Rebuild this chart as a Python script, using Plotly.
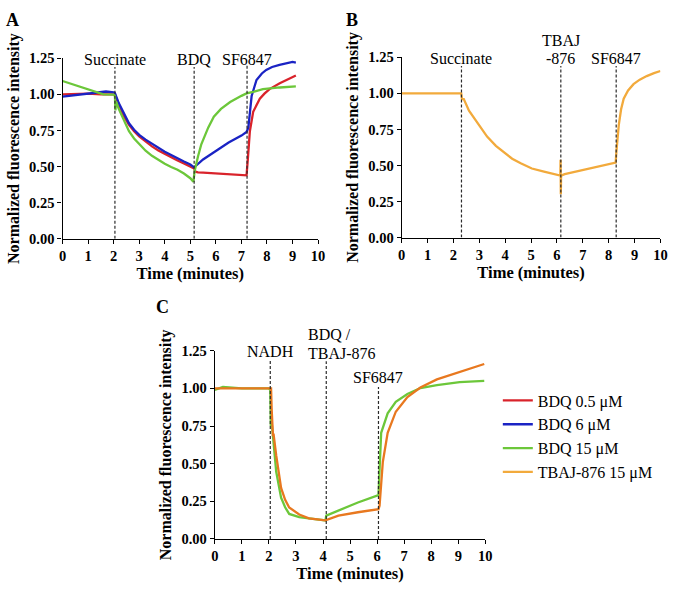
import plotly.graph_objects as go

# ---------------- data ----------------
# Panel A (BDQ, succinate)
a_red_t = [0, 0.5, 1.0, 1.5, 2.0, 2.05, 2.2, 2.4, 2.6, 2.8, 3.0, 3.25, 3.5, 3.75, 4.0, 4.25, 4.5, 4.75, 5.0, 5.15,
           5.2, 5.3, 5.5, 6.0, 6.5, 7.0, 7.2, 7.25, 7.33, 7.46, 7.6, 7.72, 7.9, 8.1, 8.5, 8.8, 9.13]
a_red_v = [1.0, 1.005, 1.005, 1.0, 1.0, 1.0, 0.93, 0.85, 0.79, 0.745, 0.71, 0.672, 0.64, 0.612, 0.588, 0.565, 0.543, 0.522, 0.502, 0.487,
           0.465, 0.46, 0.458, 0.452, 0.447, 0.442, 0.44, 0.55, 0.745, 0.88, 0.93, 0.97, 1.005, 1.037, 1.077, 1.105, 1.131]

a_blue_t = [0, 0.5, 1.0, 1.5, 1.7, 2.0, 2.05, 2.2, 2.4, 2.6, 2.8, 3.0, 3.25, 3.5, 3.75, 4.0, 4.25, 4.5, 4.75, 5.0, 5.15,
            5.5, 6.0, 6.5, 7.0, 7.2, 7.27, 7.4, 7.59, 7.8, 7.97, 8.2, 8.49, 9.0, 9.13]
a_blue_v = [0.985, 0.995, 1.005, 1.015, 1.02, 1.015, 1.01, 0.94, 0.865, 0.80, 0.755, 0.72, 0.687, 0.657, 0.628, 0.603, 0.58, 0.556, 0.535, 0.515, 0.495,
            0.55, 0.61, 0.667, 0.715, 0.74, 0.77, 0.99, 1.10, 1.145, 1.17, 1.19, 1.205, 1.225, 1.22]

a_green_t = [0, 0.4, 0.79, 1.3, 1.6, 2.0, 2.05, 2.07, 2.1, 2.2, 2.4, 2.6, 2.8, 3.0, 3.25, 3.5, 3.75, 4.0, 4.25, 4.5, 4.75, 5.0, 5.12,
             5.17, 5.3, 5.43, 5.7, 5.92, 6.2, 6.56, 7.0, 7.2, 7.5, 7.84, 8.5, 9.13]
a_green_v = [1.093, 1.07, 1.048, 1.014, 1.0, 0.998, 0.99, 0.89, 0.95, 0.9, 0.82, 0.745, 0.695, 0.655, 0.61, 0.575, 0.545, 0.52, 0.498, 0.478, 0.452, 0.42, 0.395,
             0.47, 0.57, 0.655, 0.77, 0.846, 0.9, 0.947, 0.99, 1.007, 1.02, 1.037, 1.048, 1.055]

# Panel B (TBAJ-876, succinate)
b_orange_t = [0, 0.5, 1.0, 1.5, 2.0, 2.3, 2.33, 2.4, 2.6, 3.0, 3.3, 3.64, 4.0, 4.27, 4.6, 5.03, 5.5, 6.0, 6.13, 6.14, 6.15, 6.16,
              6.3, 6.68, 7.19, 7.7, 8.27, 8.3, 8.39, 8.48, 8.58, 8.75, 8.96, 9.2, 9.47, 9.75, 10.0]
b_orange_v = [1.0, 1.0, 1.003, 1.0, 1.0, 1.0, 0.96, 0.96, 0.88, 0.78, 0.70, 0.636, 0.585, 0.547, 0.515, 0.479, 0.458, 0.44, 0.43, 0.54, 0.30, 0.43,
              0.44, 0.455, 0.475, 0.495, 0.52, 0.6, 0.78, 0.89, 0.963, 1.02, 1.064, 1.095, 1.12, 1.14, 1.155]

# Panel C (NADH)
c_green_t = [0, 0.3, 1.0, 1.5, 2.0, 2.05, 2.07, 2.1, 2.18, 2.27, 2.45, 2.6, 2.75, 3.12, 3.48, 4.09, 4.12, 4.57, 5.29, 6.05,
             6.1, 6.15, 6.39, 6.69, 7.12, 7.6, 8.21, 9.05, 9.96]
c_green_v = [0.99, 1.01, 1.0, 1.0, 1.0, 0.99, 0.75, 0.78, 0.6, 0.446, 0.274, 0.21, 0.166, 0.145, 0.137, 0.123, 0.155, 0.188, 0.242, 0.291,
             0.5, 0.705, 0.834, 0.91, 0.963, 1.002, 1.021, 1.041, 1.05]

c_orange_t = [0, 0.5, 1.0, 1.5, 2.0, 2.08, 2.1, 2.15, 2.17, 2.27, 2.45, 2.6, 2.75, 3.12, 3.48, 4.09, 4.57, 5.29, 6.05,
              6.09, 6.21, 6.39, 6.69, 7.12, 7.6, 8.21, 9.05, 9.96]
c_orange_v = [1.0, 1.0, 1.0, 1.0, 1.0, 1.0, 0.87, 0.683, 0.7, 0.554, 0.339, 0.26, 0.209, 0.162, 0.137, 0.123, 0.155, 0.177, 0.198,
              0.22, 0.51, 0.705, 0.845, 0.942, 1.006, 1.06, 1.11, 1.162]

series_names = ["BDQ 0.5 μM", "BDQ 6 μM", "BDQ 15 μM", "TBAJ-876 15 μM"]

a_event_t = [2.05, 5.15, 7.22]
a_event_labels = [["Succinate"], ["BDQ"], ["SF6847"]]
b_event_t = [2.31, 6.15, 8.29]
b_event_labels = [["Succinate"], ["TBAJ", "-876"], ["SF6847"]]
c_event_t = [2.05, 4.12, 6.05]
c_event_labels = [["NADH"], ["BDQ /", "TBAJ-876"], ["SF6847"]]

x_ticks = list(range(0, 11))
y_ticks = [0, 0.25, 0.5, 0.75, 1.0, 1.25]
Y_MAX = 1.25

# ---------------- style ----------------
RED = "#d9232b"
BLUE = "#1a23c4"
GREEN = "#6cc73a"
GOLD = "#f2aa3c"
ORANGE = "#e8781f"
SERIF = "Liberation Serif"
W, H = 675, 590

fig = go.Figure()

def add_line(t, v, color, name, xa, ya, show):
    fig.add_trace(go.Scatter(x=t, y=v, mode="lines", name=name, showlegend=show,
                             line=dict(color=color, width=2.3), xaxis=xa, yaxis=ya,
                             hoverinfo="skip"))

add_line(a_red_t, a_red_v, RED, series_names[0], "x", "y", True)
add_line(a_blue_t, a_blue_v, BLUE, series_names[1], "x", "y", True)
add_line(a_green_t, a_green_v, GREEN, series_names[2], "x", "y", True)
add_line(b_orange_t, b_orange_v, GOLD, series_names[3], "x2", "y2", True)
add_line(c_green_t, c_green_v, GREEN, series_names[2], "x3", "y3", False)
add_line(c_orange_t, c_orange_v, ORANGE, series_names[3], "x3", "y3", False)

def px_x(a, b):
    return [a / W, b / W]

def px_y(bottom, top):
    return [1 - bottom / H, 1 - top / H]

tickfont = dict(family=SERIF, size=14.5, color="black", weight="bold")
xtitlefont = dict(family=SERIF, size=16.5, color="black", weight="bold")
ytitlefont = dict(family=SERIF, size=16, color="black", weight="bold")

def xaxis(dom, anchor):
    return dict(domain=dom, anchor=anchor, range=[0, 10], tickvals=x_ticks,
                showline=True, linecolor="black", linewidth=1.3, ticks="outside",
                ticklen=4, tickwidth=1.3, tickcolor="black", showgrid=False, zeroline=False,
                tickfont=tickfont, title=dict(text="Time (minutes)", font=xtitlefont, standoff=0))

def yaxis(dom, anchor):
    return dict(domain=dom, anchor=anchor, range=[0, Y_MAX], tickvals=y_ticks, tickformat=".2f",
                showline=True, linecolor="black", linewidth=1.3, ticks="outside",
                ticklen=4, tickwidth=1.3, tickcolor="black", showgrid=False, zeroline=False,
                tickfont=tickfont,
                title=dict(text="Normalized fluorescence intensity", font=ytitlefont, standoff=5))

fig.update_layout(
    width=W, height=H, margin=dict(l=0, r=0, t=0, b=0),
    paper_bgcolor="white", plot_bgcolor="white",
    xaxis=xaxis(px_x(59.5, 319.3), "y"), yaxis=yaxis(px_y(237.3, 51.7), "x"),
    xaxis2=xaxis(px_x(404.3, 667.3), "y2"), yaxis2=yaxis(px_y(236, 50.7), "x2"),
    xaxis3=xaxis(px_x(214.3, 489.3), "y3"), yaxis3=yaxis(px_y(545.7, 352.3), "x3"),
    legend=dict(x=502 / W, y=1 - 386 / H, xanchor="left", yanchor="top",
                font=dict(family=SERIF, size=16, color="black"), bgcolor="rgba(0,0,0,0)",
                traceorder="normal"),
    showlegend=True,
)

shapes = []
annotations = []
labfont = dict(family=SERIF, size=16, color="black")
LINE_STEP = 0.125  # vertical step between stacked label lines (data units)

def add_events(times, labels, xr, yr, tops, label_pos):
    for t, lines, top, (lx, ly, anchor) in zip(times, labels, tops, label_pos):
        shapes.append(dict(type="line", xref=xr, yref=yr, x0=t, x1=t, y0=0, y1=top,
                           line=dict(color="#2a2a2a", width=1.2, dash="3px,2px")))
        n = len(lines)
        for i, line in enumerate(lines):
            y = ly + (n - 1 - i) * LINE_STEP
            annotations.append(dict(xref=xr, yref=yr + " domain", x=lx, y=y / Y_MAX, text=line,
                                    showarrow=False, xanchor=anchor, yanchor="middle", font=labfont))

add_events(a_event_t, a_event_labels, "x", "y", [1.19, 1.19, 1.2],
           [(a_event_t[0], 1.245, "center"), (a_event_t[1], 1.245, "center"), (a_event_t[2], 1.245, "center")])
add_events(b_event_t, b_event_labels, "x2", "y2", [1.19, 1.19, 1.19],
           [(b_event_t[0], 1.245, "center"), (b_event_t[1], 1.245, "center"), (b_event_t[2], 1.245, "center")])
add_events(c_event_t, c_event_labels, "x3", "y3", [1.19, 1.18, 1.01],
           [(c_event_t[0], 1.245, "center"), (3.36, 1.23, "left"), (c_event_t[2], 1.07, "center")])

letterfont = dict(family=SERIF, size=18, color="black", weight="bold")
for txt, px, py in [("A", 9, 12), ("B", 354, 12), ("C", 161, 307)]:
    annotations.append(dict(xref="paper", yref="paper", x=px / W, y=1 - py / H, text=txt,
                            showarrow=False, xanchor="center", yanchor="middle", font=letterfont))

fig.update_layout(shapes=shapes, annotations=annotations)
fig.write_html("out.html", config={"displayModeBar": False},
               post_script="document.body.style.margin='0px';")
